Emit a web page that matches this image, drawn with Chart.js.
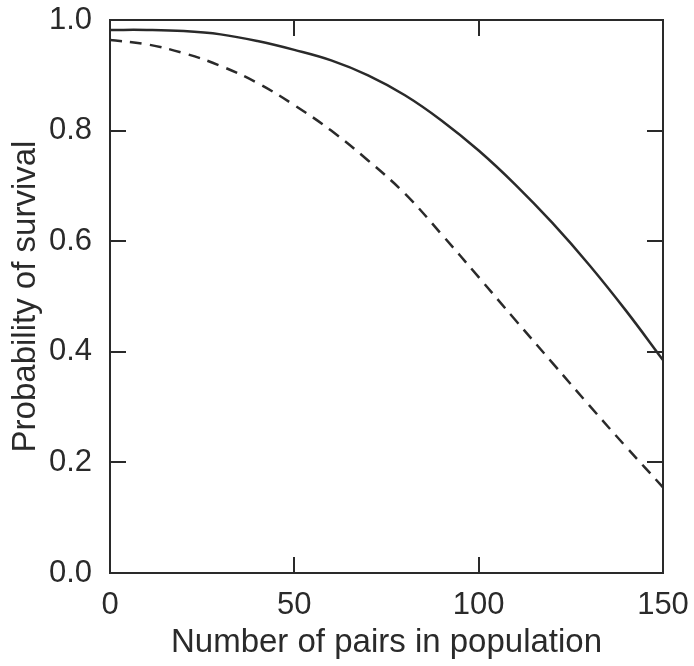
<!DOCTYPE html>
<html>
<head>
<meta charset="utf-8">
<script src="https://cdn.jsdelivr.net/npm/chart.js@4.4.1/dist/chart.umd.min.js"></script>
<style>
  html, body { margin: 0; padding: 0; background: #fff; }
  #wrap { width: 694px; height: 666px; }
</style>
</head>
<body>
<div id="wrap"><canvas id="survivalChart"></canvas></div>
<script>
// Number of pairs (x) and survival probabilities for the two curves
const pairs = [0, 10, 20, 30, 40, 50, 60, 70, 80, 90, 100, 110, 120, 130, 140, 150];
const survivalSolid = [0.982, 0.982, 0.980, 0.974, 0.962, 0.946, 0.927, 0.900, 0.864, 0.818, 0.764, 0.702, 0.633, 0.557, 0.474, 0.385];
const survivalDashed = [0.964, 0.956, 0.940, 0.917, 0.886, 0.846, 0.800, 0.746, 0.686, 0.612, 0.535, 0.457, 0.380, 0.303, 0.228, 0.155];
const xTicks = [0, 50, 100, 150];
const yTicks = [0, 0.2, 0.4, 0.6, 0.8, 1.0];

const ink = '#2a2a2a';
const fontFamily = "'Liberation Sans', Arial, Helvetica, sans-serif";

function toPoints(ys) {
    return pairs.map((x, i) => ({ x: x, y: ys[i] }));
}

// frame round the plot plus inward ticks on all four sides
const frameTicks = {
    id: 'frameTicks',
    afterDraw(chart) {
        const { ctx, chartArea: a, scales } = chart;
        const len = 16;
        ctx.save();
        ctx.strokeStyle = ink;
        ctx.lineWidth = 2;
        ctx.strokeRect(a.left, a.top, a.right - a.left, a.bottom - a.top);
        ctx.beginPath();
        xTicks.forEach(v => {
            const px = Math.round(scales.x.getPixelForValue(v));
            if (px <= a.left + 1 || px >= a.right - 1) return;
            ctx.moveTo(px, a.bottom); ctx.lineTo(px, a.bottom - len);
            ctx.moveTo(px, a.top); ctx.lineTo(px, a.top + len);
        });
        yTicks.forEach(v => {
            const py = Math.round(scales.y.getPixelForValue(v));
            if (py <= a.top + 1 || py >= a.bottom - 1) return;
            ctx.moveTo(a.left, py); ctx.lineTo(a.left + len, py);
            ctx.moveTo(a.right, py); ctx.lineTo(a.right - len, py);
        });
        ctx.stroke();
        ctx.restore();
    }
};

new Chart(document.getElementById('survivalChart'), {
    type: 'line',
    data: {
        datasets: [
            {
                data: toPoints(survivalSolid),
                borderColor: ink,
                borderWidth: 2.5,
                pointRadius: 0,
                tension: 0.4,
                fill: false
            },
            {
                data: toPoints(survivalDashed),
                borderColor: ink,
                borderWidth: 2.5,
                borderDash: [12, 8],
                pointRadius: 0,
                tension: 0.4,
                fill: false
            }
        ]
    },
    options: {
        responsive: true,
        maintainAspectRatio: false,
        animation: false,
        layout: { padding: { left: 0, top: 20, right: 31, bottom: 0 } },
        plugins: { legend: { display: false }, tooltip: { enabled: false } },
        scales: {
            x: {
                type: 'linear',
                min: 0,
                max: 150,
                afterBuildTicks: s => { s.ticks = xTicks.map(v => ({ value: v })); },
                afterFit: s => { s.height = 93; s.paddingLeft = 0; s.paddingRight = 0; },
                grid: { display: false },
                border: { display: false },
                ticks: {
                    color: ink,
                    padding: 6,
                    maxRotation: 0,
                    font: { family: fontFamily, size: 31 }
                },
                title: {
                    display: true,
                    text: 'Number of pairs in population',
                    color: ink,
                    padding: { top: 2, bottom: 3 },
                    font: { family: fontFamily, size: 33 }
                }
            },
            y: {
                min: 0,
                max: 1,
                afterBuildTicks: s => { s.ticks = yTicks.map(v => ({ value: v })); },
                afterFit: s => { s.width = 110; s.paddingTop = 0; s.paddingBottom = 0; },
                grid: { display: false },
                border: { display: false },
                ticks: {
                    color: ink,
                    padding: 10,
                    callback: v => v.toFixed(1),
                    font: { family: fontFamily, size: 31 }
                },
                title: {
                    display: true,
                    text: 'Probability of survival',
                    color: ink,
                    padding: { top: 6, bottom: 0 },
                    font: { family: fontFamily, size: 33 }
                }
            }
        }
    },
    plugins: [frameTicks]
});
</script>
</body>
</html>
